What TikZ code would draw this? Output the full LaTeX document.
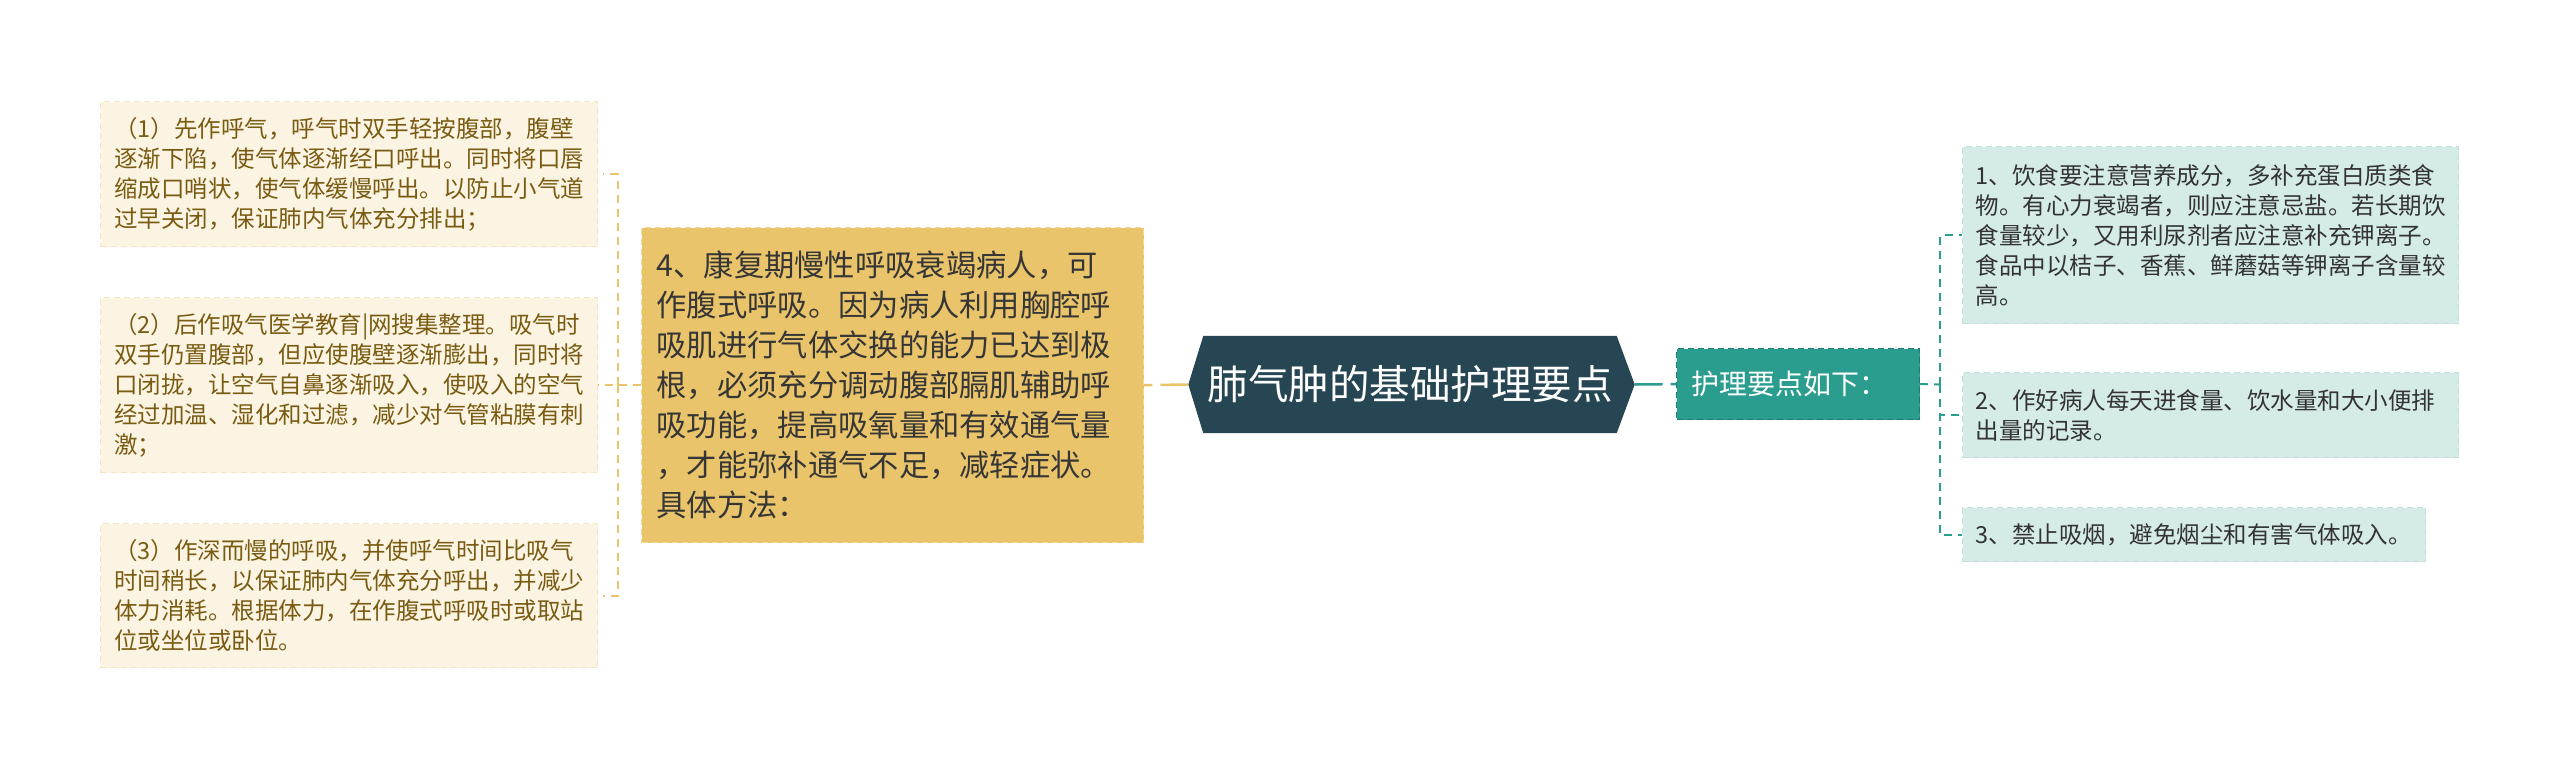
\documentclass[tikz,border=0pt]{standalone}
\usepackage{fontspec}
\setmainfont{Noto Sans CJK SC}
\usetikzlibrary{backgrounds}
\definecolor{cdark}{HTML}{264653}
\definecolor{cteal}{HTML}{2A9D8F}
\definecolor{cyel}{HTML}{E9C46A}
\definecolor{lfill}{HTML}{FBF4E3}
\definecolor{lborder}{HTML}{F1E5C6}
\definecolor{ltext}{HTML}{7A5B12}
\definecolor{rfill}{HTML}{D5EBE8}
\definecolor{rborder}{HTML}{C2DFDA}
\definecolor{rtext}{HTML}{333333}
\definecolor{mtext}{HTML}{363636}
\definecolor{mborder}{HTML}{F2D998}
\definecolor{tborder}{HTML}{1F7A6F}
\begin{document}
\begin{tikzpicture}[x=1pt,y=-1pt,
  box/.style={anchor=north west, inner ysep=0pt, align=left, dash pattern=on 6pt off 4pt, line width=1.2pt},
  lbox/.style={box, fill=lfill, draw=lborder, text=ltext, font=\fontsize{23.5pt}{30pt}\selectfont, inner xsep=13.5pt, text width=470pt},
  rbox/.style={box, fill=rfill, draw=rborder, text=rtext, font=\fontsize{23.5pt}{30pt}\selectfont, inner xsep=13pt},
  mbox/.style={box, fill=cyel, draw=mborder, text=mtext, font=\fontsize{30.3pt}{40pt}\selectfont, inner xsep=15pt, text width=472pt, minimum height=315pt},
  cnode/.style={inner sep=0pt, minimum width=413pt, minimum height=97pt, text=white, font=\fontsize{40.5pt}{48pt}\selectfont},
  gnode/.style={box, fill=cteal, draw=tborder, text=white, font=\fontsize{28pt}{34pt}\selectfont, inner xsep=15pt, text width=213pt, minimum height=71pt},
  mainl/.style={line width=2.5pt, dash pattern=on 28pt off 8pt},
  brl/.style={line width=2pt, dash pattern=on 8pt off 6pt, draw=cyel},
  brr/.style={line width=2pt, dash pattern=on 8pt off 6pt, draw=cteal}
]
\useasboundingbox (0,0) rectangle (2560,769);

% left boxes
\node[lbox, minimum height=145pt] (l1) at (100,101) {（1）先作呼气，呼气时双手轻按腹部，腹壁\\逐渐下陷，使气体逐渐经口呼出。同时将口唇\\缩成口哨状，使气体缓慢呼出。以防止小气道\\过早关闭，保证肺内气体充分排出；};
\node[lbox, minimum height=175pt] (l2) at (100,297) {（2）后作吸气医学教育|网搜集整理。吸气时\\双手仍置腹部，但应使腹壁逐渐膨出，同时将\\口闭拢，让空气自鼻逐渐吸入，使吸入的空气\\经过加温、湿化和过滤，减少对气管粘膜有刺\\激；};
\node[lbox, minimum height=144pt] (l3) at (100,523) {（3）作深而慢的呼吸，并使呼气时间比吸气\\时间稍长，以保证肺内气体充分呼出，并减少\\体力消耗。根据体力，在作腹式呼吸时或取站\\位或坐位或卧位。};

% middle box
\node[mbox] (m) at (641,227) {4、康复期慢性呼吸衰竭病人，可\\作腹式呼吸。因为病人利用胸腔呼\\吸肌进行气体交换的能力已达到极\\根，必须充分调动腹部膈肌辅助呼\\吸功能，提高吸氧量和有效通气量\\，才能弥补通气不足，减轻症状。\\具体方法：};

% central node
\node[cnode] (c) at (1410,384.5) {肺气肿的基础护理要点};
\coordinate (cw) at ([xshift=-15pt]c.west);
\coordinate (ce) at ([xshift=18pt]c.east);
\begin{scope}[on background layer]
\fill[white] (0,0) rectangle (2560,769);
\fill[cdark] (c.north west) -- (c.north east) -- (ce) -- (c.south east) -- (c.south west) -- (cw) -- cycle;
\end{scope}

% green node
\node[gnode] (g) at (1676,348) {护理要点如下：};

% right boxes
\node[rbox, text width=470pt, minimum height=177pt] (r1) at (1962,146) {1、饮食要注意营养成分，多补充蛋白质类食\\物。有心力衰竭者，则应注意忌盐。若长期饮\\食量较少，又用利尿剂者应注意补充钾离子。\\食品中以桔子、香蕉、鲜蘑菇等钾离子含量较\\高。};
\node[rbox, text width=470pt, minimum height=85pt] (r2) at (1962,372) {2、作好病人每天进食量、饮水量和大小便排\\出量的记录。};
\node[rbox, text width=437pt, minimum height=54pt] (r3) at (1962,507) {3、禁止吸烟，避免烟尘和有害气体吸入。};

% main connectors
\draw[mainl, draw=cyel] (cw) -- (m.east);
\draw[mainl, draw=cteal] (ce) -- (g.west);

% left bracket
\coordinate (lj) at (618,384.5);
\draw[brl] (m.west) -- (l2.east);
\draw[brl, shorten >=5pt] (lj) |- (l1.east);
\draw[brl, shorten >=5pt] (lj) |- (l3.east);

% right bracket
\coordinate (rj) at (1940,384.5);
\draw[brr] (g.east) -- (rj);
\draw[brr] (rj) |- (r1.west);
\draw[brr] (rj) |- (r2.west);
\draw[brr] (rj) |- (r3.west);
\end{tikzpicture}
\end{document}
